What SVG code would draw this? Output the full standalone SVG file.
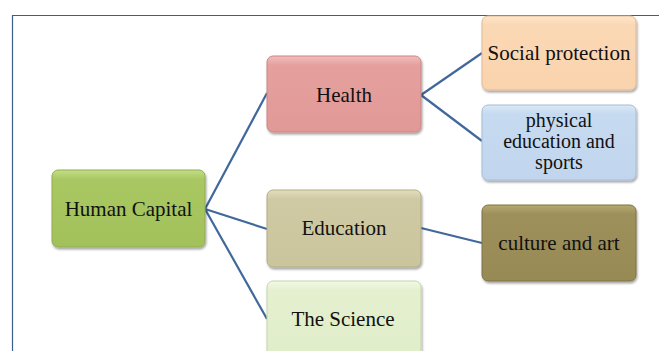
<svg xmlns="http://www.w3.org/2000/svg" width="659" height="351" viewBox="0 0 659 351">
<style>
.t{font-family:'Liberation Serif','Times New Roman',Times,serif;font-size:21px;fill:#111;text-anchor:middle}
.s{font-size:20px}
.c{stroke:#41689B;stroke-width:2.2;fill:none}
</style>
<defs>
<filter id="sh" x="-10%" y="-10%" width="125%" height="130%">
<feDropShadow dx="1" dy="2" stdDeviation="1.2" flood-color="#000" flood-opacity="0.35"/>
</filter>
<linearGradient id="gG" x1="0" y1="0" x2="0" y2="1"><stop offset="0" stop-color="#C4DE86"/><stop offset="0.12" stop-color="#A9C863"/><stop offset="1" stop-color="#A2C15A"/></linearGradient>
<linearGradient id="gR" x1="0" y1="0" x2="0" y2="1"><stop offset="0" stop-color="#F2BDBB"/><stop offset="0.12" stop-color="#E5A09E"/><stop offset="1" stop-color="#E19997"/></linearGradient>
<linearGradient id="gO" x1="0" y1="0" x2="0" y2="1"><stop offset="0" stop-color="#FDE6CC"/><stop offset="0.12" stop-color="#FBD8B5"/><stop offset="1" stop-color="#F9D3AD"/></linearGradient>
<linearGradient id="gB" x1="0" y1="0" x2="0" y2="1"><stop offset="0" stop-color="#DCE8F6"/><stop offset="0.12" stop-color="#C6DAF0"/><stop offset="1" stop-color="#C1D6EE"/></linearGradient>
<linearGradient id="gT" x1="0" y1="0" x2="0" y2="1"><stop offset="0" stop-color="#E2DDBD"/><stop offset="0.12" stop-color="#D0CAA4"/><stop offset="1" stop-color="#CBC59E"/></linearGradient>
<linearGradient id="gK" x1="0" y1="0" x2="0" y2="1"><stop offset="0" stop-color="#B5A972"/><stop offset="0.12" stop-color="#9D905B"/><stop offset="1" stop-color="#978A55"/></linearGradient>
<linearGradient id="gL" x1="0" y1="0" x2="0" y2="1"><stop offset="0" stop-color="#F2F9E5"/><stop offset="0.12" stop-color="#E4F0CF"/><stop offset="1" stop-color="#E0EDC9"/></linearGradient>
</defs>
<rect width="659" height="351" fill="#fff"/>
<path d="M12.5 351 V15.5 H659" fill="none" stroke="#3A5F8F" stroke-width="1.2"/>
<g id="connectors">
<path class="c" d="M205 209 L267 93"/>
<path class="c" d="M205 209 L267 229"/>
<path class="c" d="M205 209 L267 319"/>
<path class="c" d="M421 95 L482 53"/>
<path class="c" d="M421 95 L482 141"/>
<path class="c" d="M421 228 L482 243"/>
</g>
<g id="human-capital">
<rect x="52" y="170" width="153" height="77" rx="6" fill="url(#gG)" stroke="#8FAE4E" filter="url(#sh)"/>
<text class="t" x="128.5" y="216">Human Capital</text>
</g>
<g id="health">
<rect x="267" y="56" width="154" height="76" rx="6" fill="url(#gR)" stroke="#C98684" filter="url(#sh)"/>
<text class="t" x="344" y="102">Health</text>
</g>
<g id="social-protection">
<rect x="482" y="16" width="154" height="74" rx="6" fill="url(#gO)" stroke="#E0BA94" filter="url(#sh)"/>
<text class="t" x="559" y="60">Social protection</text>
</g>
<g id="physical-education">
<rect x="482" y="105" width="154" height="75" rx="6" fill="url(#gB)" stroke="#A6BCD6" filter="url(#sh)"/>
<text class="t s" x="559" y="127">physical</text>
<text class="t s" x="559" y="148">education and</text>
<text class="t s" x="559" y="169">sports</text>
</g>
<g id="education">
<rect x="267" y="190" width="154" height="77" rx="6" fill="url(#gT)" stroke="#B2AC86" filter="url(#sh)"/>
<text class="t" x="344" y="235">Education</text>
</g>
<g id="culture-and-art">
<rect x="482" y="205" width="154" height="76" rx="6" fill="url(#gK)" stroke="#7E7344" filter="url(#sh)"/>
<text class="t" x="559" y="250">culture and art</text>
</g>
<g id="the-science">
<rect x="267" y="281" width="154" height="80" rx="6" fill="url(#gL)" stroke="#C6D4AE" filter="url(#sh)"/>
<text class="t" x="343" y="326">The Science</text>
</g>
</svg>
